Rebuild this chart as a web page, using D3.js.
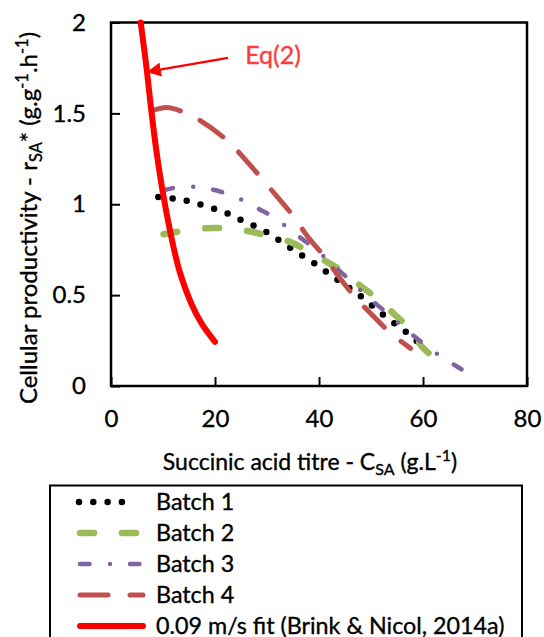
<!DOCTYPE html>
<html>
<head>
<meta charset="utf-8">
<script src="https://cdn.jsdelivr.net/npm/d3@7"></script>
<style>
    body { margin: 0; background: #fff; }
    text { font-family: Lato, "Open Sans", sans-serif; stroke-width: 0.35px; paint-order: stroke; }
</style>
</head>
<body>
<div id="chart"></div>
<script>

// values (x = succinic acid titre g/L, y = r_SA* g/g/h)
let batch1 = [[9.1,1.04],[12,1.031],[15,1.016],[17.6,0.995],[20.2,0.971],[22.9,0.943],[25.4,0.908],[28,0.875],
              [30.6,0.835],[32.8,0.793],[35.2,0.747],[37.6,0.702],[40.1,0.656],[42.2,0.61],[44.6,0.564],
              [46.9,0.518],[49.2,0.467],[51.4,0.414],[53.5,0.366],[55.9,0.317],[58,0.266],[60.2,0.216]];
let batch2 = [[10.1,0.835],[14,0.855],[18,0.868],[22,0.868],[26.3,0.853],[30,0.828],[34.4,0.793],[37.6,0.747],
              [41.5,0.683],[44.7,0.628],[48.2,0.546],[51.2,0.482],[54.3,0.40],[57.2,0.32],[60.1,0.207],[62.6,0.147]];
let batch3 = [[10.1,1.077],[12.8,1.093],[16.3,1.095],[19.7,1.08],[22.5,1.055],[25.6,1.018],[28.7,0.97],[31.2,0.93],
              [34,0.87],[36.7,0.81],[38.9,0.762],[41.6,0.695],[44,0.632],[46.3,0.573],[48.8,0.505],[51.4,0.441],
              [53.7,0.386],[56.2,0.322],[58.8,0.262],[61.2,0.207],[64,0.152],[67.4,0.092]];
let batch4 = [[8.1,1.516],[10.7,1.532],[13.9,1.508],[16.8,1.467],[22.1,1.357],[26,1.24],[30.9,1.077],[34.9,0.94],
              [38,0.815],[40.8,0.72],[44,0.594],[47,0.487],[50,0.398],[53.7,0.293],[57.6,0.207]];
let fit = [[5.71,2.0],[6.86,1.744],[7.69,1.53],[8.79,1.281],[10.06,1.05],[11.98,0.77],[13.2,0.63],
           [15.5,0.45],[17.5,0.34],[20,0.243]];

let seriesNames = ["Batch 1", "Batch 2", "Batch 3", "Batch 4", "0.09 m/s fit (Brink & Nicol, 2014a)"];
let xTicks = [0, 20, 40, 60, 80];
let yTicks = [0, 0.5, 1, 1.5, 2];
let yTickLabels = ["0", "0.5", "1", "1.5", "2"];

// annotation (data coords)
let eqLabel = "Eq(2)";
let eqLabelAt = [25.8, 1.77];
let eqArrowFrom = [22.5, 1.805];
let eqArrowTo = [6.9, 1.728];

let dim = {
    'width': 544,
    'height': 637
};

let box = { left: 111, top: 22.5, right: 527, bottom: 386 };

let svg = d3.select('#chart').append('svg')
    .attr('width', dim.width)
    .attr('height', dim.height);

let scaleX = d3.scaleLinear().domain([0, 80]).range([box.left, box.right]);
let scaleY = d3.scaleLinear().domain([0, 2]).range([box.bottom, box.top]);

// line styles, same order as seriesNames
let styles = [
    { color: '#000000', width: 6.5, dash: '0,14.3' },
    { color: '#9BBB59', width: 6.5, dash: '14,28' },
    { color: '#8064A2', width: 4.5, dash: '9.5,20.5,0,20' },
    { color: '#C0504D', width: 5,   dash: '28,22' },
    { color: '#FF0000', width: 6,   dash: null }
];
let allSeries = [batch1, batch2, batch3, batch4, fit];

// axes
let axisX = svg.append('g')
    .attr('transform', `translate(0,${box.bottom})`)
    .call(d3.axisBottom(scaleX).tickValues(xTicks).tickSize(-9).tickSizeOuter(0).tickPadding(24));

let axisY = svg.append('g')
    .attr('transform', `translate(${box.left},0)`)
    .call(d3.axisLeft(scaleY).tickValues(yTicks).tickFormat((d, i) => yTickLabels[i])
        .tickSize(-9).tickSizeOuter(0).tickPadding(25));

[axisX, axisY].forEach(a => {
    a.select('.domain').remove();
    a.selectAll('.tick line').attr('stroke', '#000').attr('stroke-width', 2);
    a.selectAll('.tick text').attr('font-size', 24).attr('fill', '#000').attr('stroke', '#000')
        .style('font-family', 'Lato, "Open Sans", sans-serif');
});

svg.append('rect')
    .attr('x', box.left).attr('y', box.top)
    .attr('width', box.right - box.left).attr('height', box.bottom - box.top)
    .attr('fill', 'none').attr('stroke', '#000').attr('stroke-width', 2.5);

// series
let lineGen = d3.line()
    .x(d => scaleX(d[0]))
    .y(d => scaleY(d[1]))
    .curve(d3.curveCatmullRom.alpha(0.5));

svg.selectAll('path.series')
    .data(allSeries)
    .join('path')
    .attr('class', 'series')
    .attr('d', lineGen)
    .attr('fill', 'none')
    .attr('stroke', (d, i) => styles[i].color)
    .attr('stroke-width', (d, i) => styles[i].width)
    .attr('stroke-dasharray', (d, i) => styles[i].dash)
    .attr('stroke-linecap', 'round');

// annotation arrow
svg.append('defs').append('marker')
    .attr('id', 'arrow')
    .attr('markerUnits', 'userSpaceOnUse')
    .attr('viewBox', '0 0 14 14')
    .attr('refX', 14).attr('refY', 7)
    .attr('markerWidth', 14).attr('markerHeight', 14)
    .attr('orient', 'auto')
    .append('path')
    .attr('d', 'M0,0 L14,7 L0,14 Z')
    .attr('fill', '#FF0000');

svg.append('line')
    .attr('x1', scaleX(eqArrowFrom[0])).attr('y1', scaleY(eqArrowFrom[1]))
    .attr('x2', scaleX(eqArrowTo[0])).attr('y2', scaleY(eqArrowTo[1]))
    .attr('stroke', '#FF0000').attr('stroke-width', 2.2)
    .attr('marker-end', 'url(#arrow)');

svg.append('text')
    .attr('x', scaleX(eqLabelAt[0])).attr('y', scaleY(eqLabelAt[1]))
    .attr('font-size', 25)
    .attr('fill', '#FF3B3B').attr('stroke', '#FF3B3B')
    .text(eqLabel);

// axis titles
let xTitle = svg.append('text')
    .attr('x', 310).attr('y', 470)
    .attr('text-anchor', 'middle')
    .attr('font-size', 23).attr('stroke', '#000');
xTitle.append('tspan').text('Succinic acid titre - C');
xTitle.append('tspan').attr('font-size', 16).attr('dy', 5).text('SA');
xTitle.append('tspan').attr('dy', -5).text(' (g.L');
xTitle.append('tspan').attr('font-size', 16).attr('dy', -9).text('-1');
xTitle.append('tspan').attr('dy', 9).text(')');

let yTitle = svg.append('text')
    .attr('transform', 'translate(37,218) rotate(-90)')
    .attr('text-anchor', 'middle')
    .attr('font-size', 24).attr('stroke', '#000');
yTitle.append('tspan').text('Cellular productivity -  r');
yTitle.append('tspan').attr('font-size', 16.5).attr('dy', 5).text('SA');
yTitle.append('tspan').attr('dy', -5).text('* (g.g');
yTitle.append('tspan').attr('font-size', 16.5).attr('dy', -9).text('-1');
yTitle.append('tspan').attr('dy', 9).text('.h');
yTitle.append('tspan').attr('font-size', 16.5).attr('dy', -9).text('-1');
yTitle.append('tspan').attr('dy', 9).text(')');

// legend (box runs off the bottom of the picture)
let legend = svg.append('g');
legend.append('rect')
    .attr('x', 50).attr('y', 485.5)
    .attr('width', 472).attr('height', 200)
    .attr('fill', '#fff').attr('stroke', '#000').attr('stroke-width', 2);

let rows = legend.selectAll('g.row')
    .data(seriesNames)
    .join('g')
    .attr('class', 'row')
    .attr('transform', (d, i) => `translate(0,${502 + i * 31})`);

rows.append('line')
    .attr('x1', (d, i) => i == 0 ? 79 : 80)
    .attr('x2', (d, i) => i == 0 ? 136 : 143)
    .attr('stroke', (d, i) => styles[i].color)
    .attr('stroke-width', (d, i) => styles[i].width)
    .attr('stroke-dasharray', (d, i) => styles[i].dash)
    .attr('stroke-linecap', 'round');

rows.append('text')
    .attr('x', 156)
    .attr('dy', '0.35em')
    .attr('font-size', 23.3)
    .attr('stroke', '#000')
    .text(d => d);

</script>
</body>
</html>
